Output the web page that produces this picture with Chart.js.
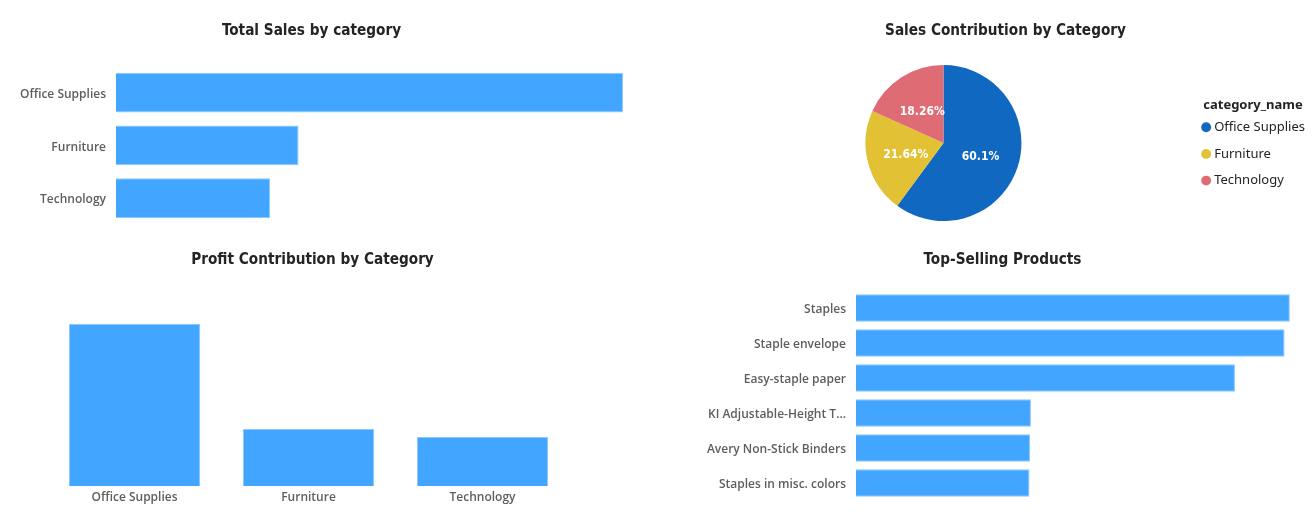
<!DOCTYPE html>
<html><head><meta charset="utf-8">
<script src="https://cdn.jsdelivr.net/npm/chart.js@4.4.1/dist/chart.umd.min.js"></script>
<style>
html,body{margin:0;padding:0;background:#fff;width:1315px;height:511px;overflow:hidden;}
canvas{position:absolute;}
</style></head><body>
<canvas id="c1" width="650" height="240" style="left:0;top:0"></canvas>
<canvas id="c2" width="625" height="240" style="left:690px;top:0"></canvas>
<canvas id="c3" width="650" height="271" style="left:0;top:240px"></canvas>
<canvas id="c4" width="625" height="271" style="left:690px;top:240px"></canvas>
<script>
// ---- data ----
const categories = ['Office Supplies', 'Furniture', 'Technology'];
const salesShare = [60.10, 21.64, 18.26];
const profitValues = [162, 57, 49];
const products = ['Staples', 'Staple envelope', 'Easy-staple paper', 'KI Adjustable-Height T...', 'Avery Non-Stick Binders', 'Staples in misc. colors'];
const productSales = [215, 212.4, 187.8, 86.7, 86.3, 86.0];

// ---- styles ----
const pieColors = ['#1068C1', '#E2C134', '#DF6B74'];
const BAR = '#42A5FF';
const BAR_EDGE = '#8DC9FF';
const TITLE_FONT = "'DejaVu Sans Condensed',sans-serif";
const LABEL_FONT = "'Open Sans',sans-serif";
const titleFont = {family: TITLE_FONT, size: 15.2, weight: 'bold', lineHeight: 1.2};
const labelFont = {family: LABEL_FONT, size: 12, weight: '600', lineHeight: 1.2};
const TITLE_COLOR = '#252423';
const LABEL_COLOR = '#605E5C';

Chart.defaults.animation = false;
Chart.defaults.responsive = false;
Chart.defaults.devicePixelRatio = 1;
Chart.defaults.plugins.tooltip.enabled = false;

function barDataset(values, pct) {
  return {data: values, backgroundColor: BAR, borderColor: BAR_EDGE, borderWidth: 1,
          categoryPercentage: 1, barPercentage: pct};
}
function categoryAxis(width, pad, offset) {
  return {
    grid: {display: false, drawTicks: false}, border: {display: false},
    ticks: {padding: pad, labelOffset: offset, font: labelFont, color: LABEL_COLOR},
    afterFit(s) {
      if (width) s.width = width;
      s.paddingTop = 0; s.paddingBottom = 0;
    }
  };
}

// 1. Total Sales by category
new Chart(document.getElementById('c1'), {
  type: 'bar',
  data: {labels: categories, datasets: [barDataset(salesShare, 0.755)]},
  options: {
    indexAxis: 'y',
    layout: {padding: {left: 0, right: 27, top: 0, bottom: 15.6}},
    plugins: {
      legend: {display: false},
      title: {display: true, text: 'Total Sales by category', font: titleFont, color: TITLE_COLOR,
              padding: {top: 22, bottom: 26}}
    },
    scales: {
      x: {display: false, min: 0, bounds: 'data'},
      y: categoryAxis(116, 10, 2)
    }
  }
});

// 2. Sales Contribution by Category (pie)
const pieLabels = {
  id: 'pieLabels',
  afterDatasetsDraw(chart) {
    const ctx = chart.ctx;
    const meta = chart.getDatasetMeta(0);
    const data = chart.data.datasets[0].data;
    const total = data.reduce((a, b) => a + b, 0);
    ctx.save();
    ctx.fillStyle = '#ffffff';
    ctx.font = "bold 12px " + TITLE_FONT;
    ctx.textAlign = 'center';
    ctx.textBaseline = 'middle';
    meta.data.forEach((arc, i) => {
      const p = arc.tooltipPosition();
      const pct = parseFloat((data[i] / total * 100).toFixed(2)) + '%';
      ctx.fillText(pct, p.x, p.y + 1.5);
    });
    ctx.restore();
  }
};
new Chart(document.getElementById('c2'), {
  type: 'pie',
  data: {labels: categories, datasets: [{data: salesShare, backgroundColor: pieColors, borderWidth: 0, hoverOffset: 0}]},
  options: {
    layout: {padding: {left: 6, right: 0, top: 0, bottom: 19}},
    plugins: {
      title: {display: true, text: 'Sales Contribution by Category', font: titleFont, color: TITLE_COLOR,
              padding: {top: 22, bottom: 24.8}},
      legend: {
        position: 'right', align: 'start',
        title: {display: true, text: 'category_name', position: 'center', color: TITLE_COLOR,
                font: {family: "'Noto Sans',sans-serif", size: 13, weight: 'bold'}, padding: {top: 99, bottom: -7.6}},
        labels: {usePointStyle: true, pointStyle: 'circle', boxWidth: 3, boxHeight: 7, padding: 13.7,
                 color: TITLE_COLOR, font: {family: "'Noto Sans',sans-serif", size: 13}}
      }
    }
  },
  plugins: [pieLabels]
});

// 3. Profit Contribution by Category
new Chart(document.getElementById('c3'), {
  type: 'bar',
  data: {labels: categories, datasets: [barDataset(profitValues, 0.753)]},
  options: {
    layout: {padding: {left: 47.5, right: 72.5, top: 0, bottom: 1}},
    plugins: {
      legend: {display: false},
      title: {display: true, text: 'Profit Contribution by Category', font: titleFont, color: TITLE_COLOR,
              padding: {top: 10.9, bottom: 54.9}}
    },
    scales: {
      y: {display: true, position: 'right', min: 0, bounds: 'data',
          ticks: {display: false}, grid: {display: false, drawTicks: false}, border: {display: false},
          afterFit(s) { s.width = 8; s.paddingTop = 0; s.paddingBottom = 0; }},
      x: categoryAxis(0, 4.8, 0)
    }
  }
});

// 4. Top-Selling Products
new Chart(document.getElementById('c4'), {
  type: 'bar',
  data: {labels: products, datasets: [barDataset(productSales, 0.783)]},
  options: {
    indexAxis: 'y',
    layout: {padding: {left: 0, right: 0, top: 0, bottom: 10.5}},
    plugins: {
      legend: {display: false},
      title: {display: true, text: 'Top-Selling Products', font: titleFont, color: TITLE_COLOR,
              padding: {top: 10.9, bottom: 21.4}}
    },
    scales: {
      x: {display: false, min: 0, max: Math.max(...productSales) * 1.058},
      y: categoryAxis(166, 10, 2)
    }
  }
});
</script>
</body></html>
